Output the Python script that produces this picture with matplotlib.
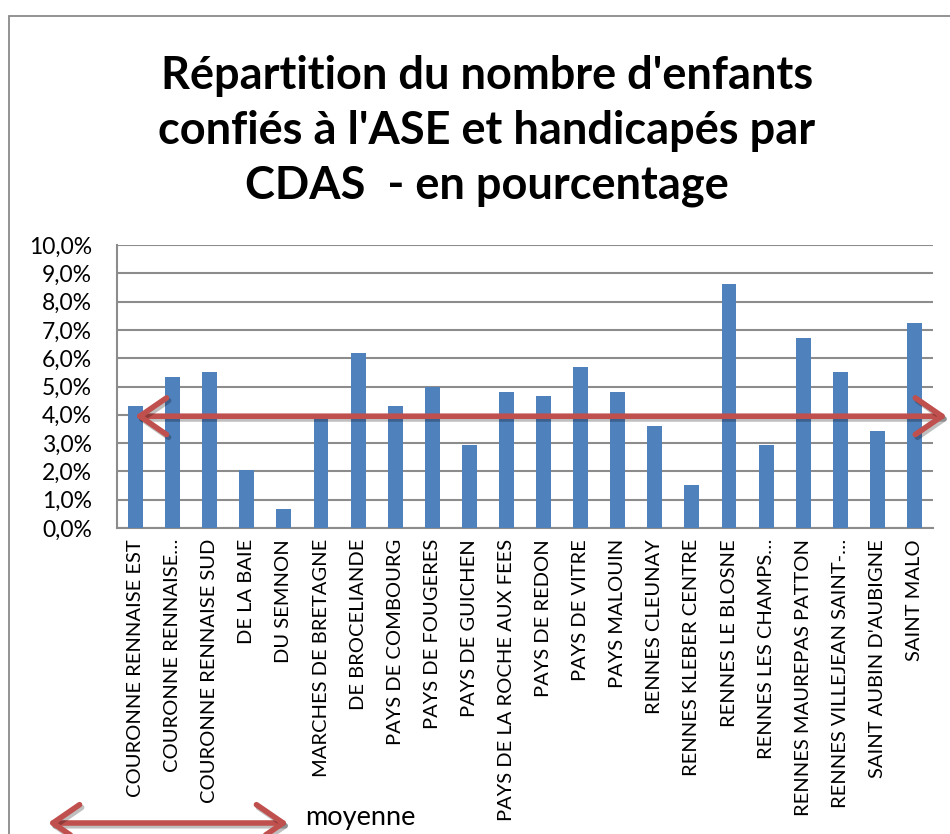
import numpy as np
import matplotlib
matplotlib.use("Agg")
import matplotlib.pyplot as plt
import matplotlib.transforms as mtransforms
import matplotlib.patheffects as pe
from matplotlib.patches import Rectangle, FancyArrowPatch

plt.rcParams['font.family'] = ['Lato', 'DejaVu Sans']

CDAS = ["COURONNE RENNAISE EST", "COURONNE RENNAISE…", "COURONNE RENNAISE SUD",
        "DE LA BAIE", "DU SEMNON", "MARCHES DE BRETAGNE", "DE BROCELIANDE",
        "PAYS DE COMBOURG", "PAYS DE FOUGERES", "PAYS DE GUICHEN",
        "PAYS DE LA ROCHE AUX FEES", "PAYS DE REDON", "PAYS DE VITRE",
        "PAYS MALOUIN", "RENNES CLEUNAY", "RENNES KLEBER CENTRE",
        "RENNES LE BLOSNE", "RENNES LES CHAMPS…", "RENNES MAUREPAS PATTON",
        "RENNES VILLEJEAN SAINT-…", "SAINT AUBIN D'AUBIGNE", "SAINT MALO"]
PCT = [4.3, 5.32, 5.5, 2.05, 0.68, 3.85, 6.2, 4.3, 5.0, 2.92,
       4.8, 4.65, 5.68, 4.8, 3.6, 1.53, 8.62, 2.92, 6.72, 5.5, 3.43, 7.23]
MEAN = 3.95
TITLE = "Répartition du nombre d'enfants\nconfiés à l'ASE et handicapés par\nCDAS  - en pourcentage"

BLUE = "#4F81BD"
RED = "#C0504D"
GRID = "#8C8C8C"

W, H = 950, 834
fig = plt.figure(figsize=(W / 100, H / 100), dpi=100)

# chart frame
fig.add_artist(Rectangle((9 / W, -0.05), 1.2, 1 - 16 / H + 0.05, transform=fig.transFigure,
                         fill=False, edgecolor="#8A8A8A", lw=1.3))

ax = fig.add_axes([117 / W, 1 - 528 / H, 816 / W, 283 / H])
x = np.arange(len(CDAS))
ax.bar(x, PCT, width=0.4, color=BLUE, zorder=3)
ax.set_xlim(-0.5, len(CDAS) - 0.5)
ax.set_ylim(0, 10)
ax.set_yticks(np.arange(0, 11, 1))
ax.set_yticklabels([f"{v:.1f}%".replace(".", ",") for v in range(0, 11)], fontsize=16.5)
ax.set_xticks(x)
ax.set_xticklabels(CDAS, rotation=90, fontsize=14.5)
ax.tick_params(length=0, pad=8)
ax.tick_params(axis='y', pad=18)
ax.grid(axis='y', color=GRID, lw=1.5, zorder=0)
for s in ["top", "right"]:
    ax.spines[s].set_visible(False)
for s in ["left", "bottom"]:
    ax.spines[s].set_color(GRID)
    ax.spines[s].set_linewidth(1.5)

# mean arrow
arrow_style = "<->,head_length=1.6,head_width=1.1"
trans = mtransforms.blended_transform_factory(ax.transAxes, ax.transData)
shadow = [pe.SimpleLineShadow(offset=(1.5, -2), alpha=0.25), pe.Normal()]
ax.annotate("", xy=(1.017, MEAN), xytext=(0.022, MEAN), xycoords=trans, textcoords=trans,
            annotation_clip=False, zorder=5,
            arrowprops=dict(arrowstyle=arrow_style, color=RED, lw=4, mutation_scale=12,
                            shrinkA=0, shrinkB=0, path_effects=shadow))

# legend
fig.add_artist(FancyArrowPatch((48 / W, 11 / H), (288 / W, 11 / H),
               transform=fig.transFigure, arrowstyle=arrow_style, mutation_scale=12,
               color=RED, lw=4, shrinkA=0, shrinkB=0, path_effects=shadow))
fig.text(305 / W, 17 / H, "moyenne", fontsize=19.5, va="center", ha="left")

fig.text(487 / W, 1 - 131 / H, TITLE, fontsize=32.5, fontweight="bold", ha="center", va="center",
         linespacing=1.38)

fig.savefig("out.png", dpi=100)
